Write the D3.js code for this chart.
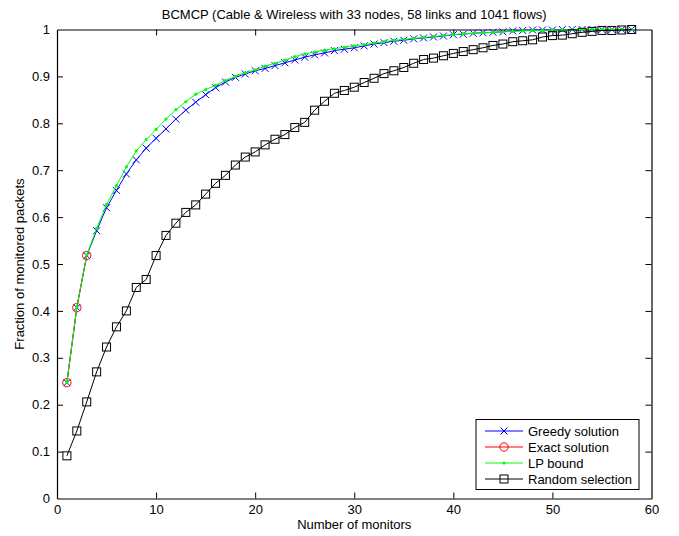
<!DOCTYPE html>
<html>
<head>
<meta charset="utf-8">
<script src="https://cdn.jsdelivr.net/npm/d3@7"></script>
<style>
  body { margin: 0; background: #fff; }
  svg { display: block; font-family: "Liberation Sans", Arial, sans-serif; }
</style>
</head>
<body>
<svg id="chart" width="679" height="536"></svg>
<script>
// monitors 1..58
var monitors = d3.range(1, 59);

var greedy = [0.247, 0.407, 0.518, 0.571, 0.620, 0.657, 0.692, 0.722, 0.747, 0.768,
  0.788, 0.809, 0.828, 0.845, 0.861, 0.876, 0.888, 0.898, 0.905, 0.912,
  0.917, 0.923, 0.929, 0.935, 0.941, 0.946, 0.950, 0.955, 0.958, 0.961,
  0.965, 0.969, 0.972, 0.975, 0.977, 0.980, 0.982, 0.984, 0.986, 0.989,
  0.990, 0.992, 0.993, 0.994, 0.995, 0.997, 0.998, 0.999, 0.999, 0.999,
  1.000, 1.000, 1.000, 1.000, 1.000, 1.000, 1.000, 1.000];

var exactX = [1, 2, 3];
var exact = [0.247, 0.407, 0.518];

var lpBound = [0.248, 0.408, 0.519, 0.576, 0.627, 0.667, 0.707, 0.741, 0.765, 0.787,
  0.809, 0.829, 0.846, 0.862, 0.872, 0.881, 0.891, 0.900, 0.908, 0.914,
  0.922, 0.928, 0.935, 0.942, 0.948, 0.952, 0.956, 0.959, 0.962, 0.965,
  0.968, 0.971, 0.974, 0.977, 0.979, 0.981, 0.983, 0.985, 0.987, 0.989,
  0.991, 0.992, 0.993, 0.994, 0.995, 0.996, 0.997, 0.998, 0.998, 0.999,
  0.999, 1.000, 1.000, 1.000, 1.000, 1.000, 1.000, 1.000];

var random = [0.091, 0.144, 0.206, 0.270, 0.323, 0.366, 0.400, 0.450, 0.467, 0.518,
  0.561, 0.587, 0.610, 0.626, 0.649, 0.672, 0.689, 0.711, 0.728, 0.739,
  0.754, 0.766, 0.776, 0.791, 0.802, 0.828, 0.847, 0.864, 0.870, 0.877,
  0.887, 0.896, 0.906, 0.912, 0.919, 0.928, 0.936, 0.939, 0.944, 0.949,
  0.953, 0.957, 0.961, 0.966, 0.969, 0.974, 0.976, 0.978, 0.984, 0.987,
  0.988, 0.991, 0.994, 0.996, 0.998, 0.998, 0.999, 1.000];

var xTicks = [0, 10, 20, 30, 40, 50, 60];
var yTicks = [0, 0.1, 0.2, 0.3, 0.4, 0.5, 0.6, 0.7, 0.8, 0.9, 1];

var legendItems = [
  { text: "Greedy solution", color: "#0000ff", marker: "cross" },
  { text: "Exact solution", color: "#ff0000", marker: "circle" },
  { text: "LP bound", color: "#00ff00", marker: "dot" },
  { text: "Random selection", color: "#000000", marker: "square" }
];

var plotLeft = 57, plotRight = 651.5, plotTop = 29.5, plotBottom = 498.5;
var fontSize = 13;
var svg = d3.select("#chart");

var x = d3.scaleLinear().domain([0, 60]).range([plotLeft, plotRight]);
var y = d3.scaleLinear().domain([0, 1]).range([plotBottom, plotTop]);

// axes, MATLAB style: ticks pointing in, box all round
svg.append("g")
    .attr("transform", "translate(0," + plotBottom + ")")
    .call(d3.axisBottom(x).tickValues(xTicks).tickSizeInner(-6).tickSizeOuter(0).tickPadding(6));
svg.append("g")
    .attr("transform", "translate(0," + plotTop + ")")
    .call(d3.axisTop(x).tickValues(xTicks).tickSizeInner(-6).tickSizeOuter(0).tickFormat(""));
svg.append("g")
    .attr("transform", "translate(" + plotLeft + ",0)")
    .call(d3.axisLeft(y).tickValues(yTicks).tickSizeInner(-6).tickSizeOuter(0).tickPadding(7)
      .tickFormat(function (d) { return d === 0 || d === 1 ? d3.format("d")(d) : d3.format(".1f")(d); }));
svg.append("g")
    .attr("transform", "translate(" + plotRight + ",0)")
    .call(d3.axisRight(y).tickValues(yTicks).tickSizeInner(-6).tickSizeOuter(0).tickFormat(""));

svg.selectAll(".domain").attr("stroke", "#000").attr("stroke-width", 1.2);
svg.selectAll(".tick line").attr("stroke", "#000");
svg.selectAll(".tick text").attr("font-size", fontSize).attr("fill", "#000")
    .attr("font-family", "Liberation Sans, Arial, sans-serif");
svg.selectAll(".tick").filter(function (d) { return d === 0 || d === 60 || d === 1; })
    .select("line").remove();

function drawMarker(g, type, color, cx, cy) {
    switch (type) {
        case "cross":
            g.append("path")
                .attr("d", "M" + (cx - 3.5) + "," + (cy - 3.5) + "L" + (cx + 3.5) + "," + (cy + 3.5) +
                    "M" + (cx - 3.5) + "," + (cy + 3.5) + "L" + (cx + 3.5) + "," + (cy - 3.5))
                .attr("stroke", color).attr("stroke-width", 1).attr("fill", "none");
            break;
        case "circle":
            g.append("circle").attr("cx", cx).attr("cy", cy).attr("r", 4.2)
                .attr("stroke", color).attr("stroke-width", 1).attr("fill", "none");
            break;
        case "dot":
            g.append("circle").attr("cx", cx).attr("cy", cy).attr("r", 1.6)
                .attr("fill", color);
            break;
        case "square":
            g.append("rect").attr("x", cx - 4).attr("y", cy - 4).attr("width", 8).attr("height", 8)
                .attr("stroke", color).attr("stroke-width", 1).attr("fill", "none");
            break;
    }
}

function drawSeries(xs, ys, color, marker) {
    var pts = xs.map(function (d, i) { return [x(d), y(ys[i])]; });
    var g = svg.append("g");
    g.append("path")
        .attr("d", d3.line()(pts))
        .attr("fill", "none").attr("stroke", color).attr("stroke-width", 1);
    pts.forEach(function (p) { drawMarker(g, marker, color, p[0], p[1]); });
}

// same plotting order as the legend
drawSeries(monitors, greedy, "#0000ff", "cross");
drawSeries(exactX, exact, "#ff0000", "circle");
drawSeries(monitors, lpBound, "#00ff00", "dot");
drawSeries(monitors, random, "#000000", "square");

// legend
var legend = svg.append("g").attr("class", "legend");
legend.append("rect")
    .attr("x", 476).attr("y", 419.5).attr("width", 163).attr("height", 70)
    .attr("fill", "#fff").attr("stroke", "#000").attr("stroke-width", 1);
legendItems.forEach(function (item, i) {
    var ly = 431 + i * 16;
    legend.append("line")
        .attr("x1", 485).attr("x2", 523).attr("y1", ly).attr("y2", ly)
        .attr("stroke", item.color).attr("stroke-width", 1);
    drawMarker(legend, item.marker, item.color, 504, ly);
    legend.append("text")
        .attr("x", 528).attr("y", ly + 4.5)
        .attr("font-size", fontSize).attr("fill", "#000")
        .text(item.text);
});

// title and axis labels
svg.append("text")
    .attr("x", (plotLeft + plotRight) / 2).attr("y", 19)
    .attr("text-anchor", "middle").attr("font-size", fontSize)
    .text("BCMCP (Cable & Wireless with 33 nodes, 58 links and 1041 flows)");
svg.append("text")
    .attr("x", (plotLeft + plotRight) / 2).attr("y", 529)
    .attr("text-anchor", "middle").attr("font-size", fontSize)
    .text("Number of monitors");
svg.append("text")
    .attr("transform", "translate(24," + (plotTop + plotBottom) / 2 + ") rotate(-90)")
    .attr("text-anchor", "middle").attr("font-size", fontSize)
    .text("Fraction of monitored packets");
</script>
</body>
</html>
